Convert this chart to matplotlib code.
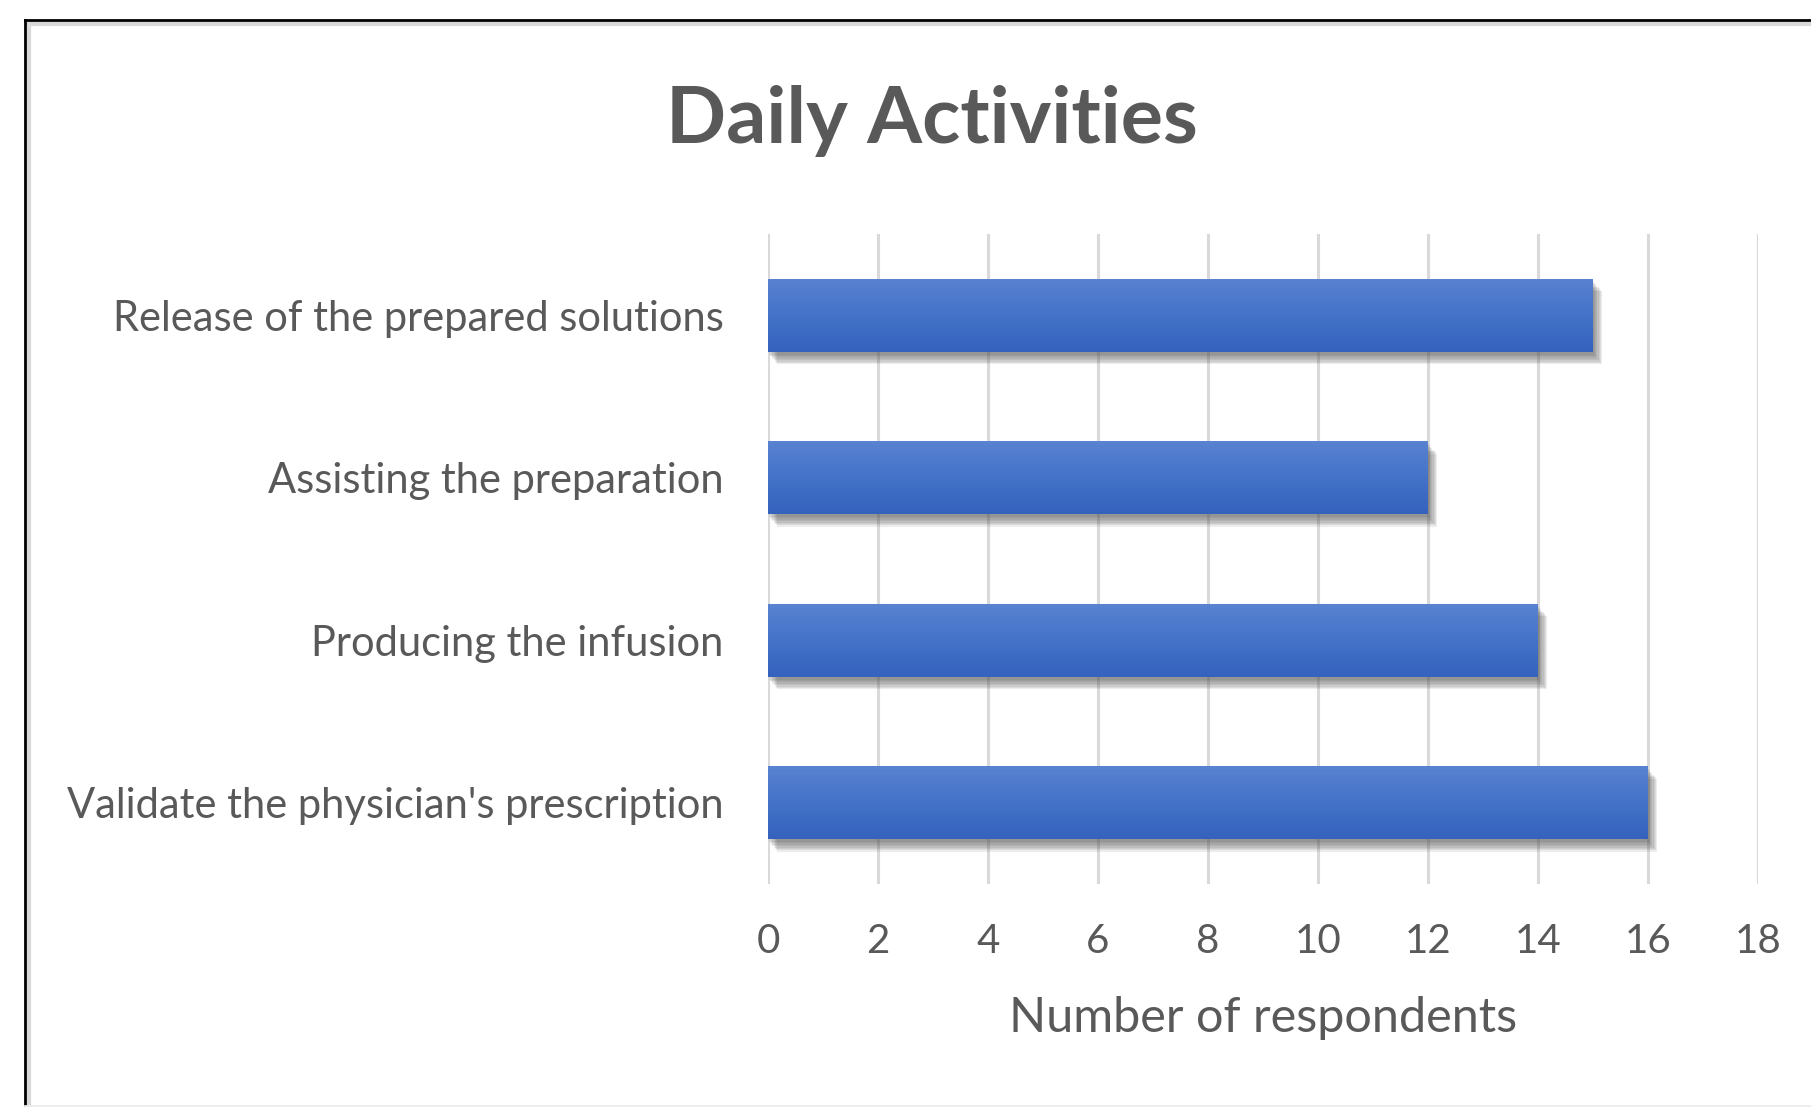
import numpy as np
import matplotlib
matplotlib.use("Agg")
import matplotlib.pyplot as plt
import matplotlib.patheffects as pe
from matplotlib.colors import LinearSegmentedColormap
from matplotlib.lines import Line2D

# data (bottom to top, as the chart draws them)
activities = ["Validate the physician's prescription", "Producing the infusion",
              "Assisting the preparation", "Release of the prepared solutions"]
respondents = [16, 14, 12, 15]
x_ticks = list(range(0, 19, 2))

title = "Daily Activities"
x_label = "Number of respondents"

plt.rcParams['font.family'] = ['Lato', 'DejaVu Sans']
text_color = "#595959"
grid_color = "#d9d9d9"

fig = plt.figure(figsize=(18.11, 11.07), dpi=100)
ax = fig.add_axes([768 / 1811, 1 - 884 / 1107, 990 / 1811, 650 / 1107])

# soft shadow: a few faint offset copies
shadow = [pe.SimplePatchShadow(offset=(d * 0.8, -d - 1), shadow_rgbFace="#555555", alpha=0.11)
          for d in (1, 2, 3, 4, 5, 6, 7, 8)]
ypos = np.arange(len(activities))
bars = ax.barh(ypos, respondents, height=0.45, color="#4472c4", zorder=3,
               path_effects=shadow + [pe.Normal()])

# vertical gradient on each bar, like the Excel fill
grad_cmap = LinearSegmentedColormap.from_list("bar", ["#3462bd", "#4473c9", "#5a83d1"])
grad = np.linspace(0, 1, 256).reshape(-1, 1)
for b in bars:
    x0, y0, w, h = b.get_x(), b.get_y(), b.get_width(), b.get_height()
    im = ax.imshow(grad, cmap=grad_cmap, aspect="auto", origin="lower",
                   extent=[x0, x0 + w, y0, y0 + h], zorder=4)
    im.set_clip_path(b)

ax.set_xlim(0, 18)
ax.set_ylim(-0.5, len(activities) - 0.5)
ax.set_xticks(x_ticks)
ax.set_yticks(ypos)
ax.set_yticklabels(activities)
ax.grid(axis="x", color=grid_color, linewidth=2.2, zorder=0)
ax.set_axisbelow(True)
for s in ax.spines.values():
    s.set_visible(False)
ax.tick_params(axis="x", length=0, colors=text_color, labelsize=29, pad=28)
ax.tick_params(axis="y", length=0, colors=text_color, labelsize=30, pad=32)
ax.set_xlabel(x_label, fontsize=35, color=text_color, labelpad=26)

fig.text(932 / 1811, 1 - 121 / 1107, title, fontsize=57, fontweight="bold",
         color=text_color, ha="center", va="center")

# frame of the chart area (cropped on the right)
W, H = 1811, 1107
fig.add_artist(Line2D([26 / W, 1], [1 - 24 / H, 1 - 24 / H], transform=fig.transFigure,
                      color="#d8d8d8", linewidth=3))
fig.add_artist(Line2D([29 / W, 29 / W], [0, 1 - 24 / H], transform=fig.transFigure,
                      color="#d8d8d8", linewidth=3))
fig.add_artist(Line2D([25 / W, 1], [1 - 20 / H, 1 - 20 / H], transform=fig.transFigure,
                      color="black", linewidth=2))
fig.add_artist(Line2D([25 / W, 25 / W], [0, 1 - 20 / H], transform=fig.transFigure,
                      color="black", linewidth=2))
fig.add_artist(Line2D([25 / W, 1], [1.5 / H, 1.5 / H], transform=fig.transFigure,
                      color="#ececec", linewidth=2))

fig.savefig("out.png", dpi=100)
